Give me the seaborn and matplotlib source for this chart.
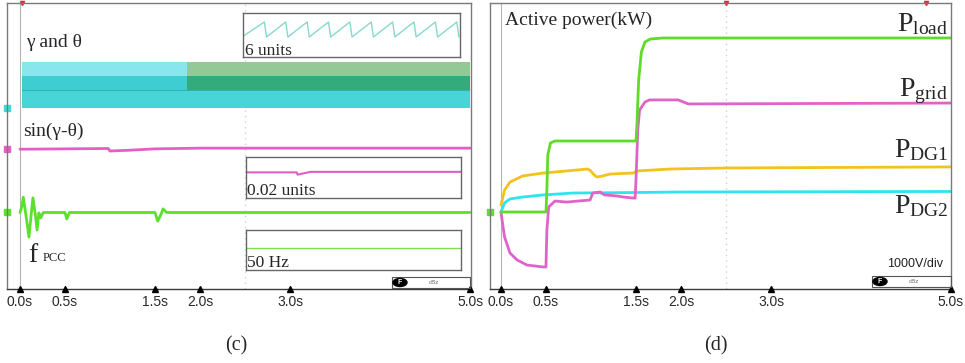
import matplotlib
matplotlib.use("Agg")
import matplotlib.pyplot as plt
import seaborn as sns
from matplotlib.patches import Rectangle, Ellipse

# ---------------- data ----------------
tick_pos = [0.0, 0.5, 1.5, 2.0, 3.0, 5.0]
tick_lab = ["0.0s", "0.5s", "1.5s", "2.0s", "3.0s", "5.0s"]

# (c) gamma / theta bands (divisions) : dense 50 Hz sawtooths seen as bands
band_t_left = [0.02, 1.86]
band_t_right = [1.86, 5.0]
band_top = [6.35, 5.96]     # upper band edges
band_mid = [5.96, 5.57]     # middle band edges
band_low = [5.54, 5.06]     # lower band edges

# (c) sin(gamma-theta)  (divisions)
sin_t = [0.0, 0.5, 0.98, 1.0, 1.2, 1.5, 2.0, 5.0]
sin_v = [3.91, 3.92, 3.93, 3.86, 3.88, 3.92, 3.94, 3.94]

# (c) f_PCC (divisions)
f_t = [0.0, 0.02, 0.037, 0.07, 0.1, 0.125, 0.144, 0.17, 0.19, 0.21, 0.23, 0.26,
       0.5, 0.52, 0.55, 1.5, 1.53, 1.56, 1.59, 1.63, 5.0]
f_v = [2.14, 2.3, 2.57, 2.0, 1.45, 2.1, 2.55, 2.1, 1.65, 2.13, 1.99, 2.14,
       2.14, 1.96, 2.14, 2.14, 1.9, 2.05, 2.24, 2.14, 2.14]

# insets of (c)
saw_t = [0, 20, 22, 40, 42, 60, 62, 80, 82, 100, 102, 120, 122, 140, 142, 160, 162,
         180, 182, 200, 202]
saw_v = [0.3, 6.28, 0.0, 6.28, 0.0, 6.28, 0.0, 6.28, 0.0, 6.28, 0.0, 6.28, 0.0, 6.28,
         0.0, 6.28, 0.0, 6.28, 0.0, 6.28, 0.0]
sinz_t = [0.0, 1.18, 1.2, 1.5, 5.0]
sinz_v = [0.0, 0.0, -0.0022, 0.0005, 0.0005]
fz_t = [0.0, 5.0]
fz_v = [50.0, 50.0]

# (d) active power (kW)
pload_t = [0, 0.5, 0.51, 0.52, 0.55, 0.6, 1.5, 1.51, 1.53, 1.56, 1.6, 1.66, 1.8, 5.0]
pload_v = [0, 0, 1.26, 3.28, 3.97, 4.08, 4.08, 5.0, 7.59, 9.2, 9.77, 9.94, 10.0, 10.0]
pgrid_t = [0, 0.02, 0.04, 0.1, 0.18, 0.29, 0.47, 0.5, 0.51, 0.53, 0.6, 0.73, 0.99,
           1.02, 1.1, 1.15, 1.29, 1.36, 1.47, 1.49, 1.5, 1.52, 1.54, 1.6, 1.65,
           1.97, 2.08, 5.0]
pgrid_v = [0, -0.75, -1.44, -2.36, -2.76, -3.05, -3.16, -3.16, -1.03, 0.29, 0.63,
           0.57, 0.69, 1.09, 1.15, 0.98, 0.92, 0.86, 0.8, 0.8, 1.84, 4.71, 5.86,
           6.32, 6.44, 6.44, 6.21, 6.26]
pdg1_t = [0, 0.04, 0.1, 0.24, 0.47, 0.73, 0.96, 0.99, 1.04, 1.07, 1.13, 1.21, 1.47,
          1.51, 1.88, 2.5, 5.0]
pdg1_v = [0.4, 1.26, 1.72, 2.07, 2.24, 2.36, 2.47, 2.4, 2.1, 2.01, 2.07, 2.18, 2.24,
          2.36, 2.47, 2.53, 2.59]
pdg2_t = [0, 0.04, 0.1, 0.24, 0.47, 0.8, 1.5, 2.0, 5.0]
pdg2_v = [0, 0.52, 0.75, 0.86, 0.98, 1.09, 1.12, 1.15, 1.18]

# ---------------- style ----------------
sns.set_theme(style="white")
plt.rcParams["font.family"] = ["Liberation Serif", "DejaVu Serif"]
plt.rcParams["mathtext.fontset"] = "custom"
plt.rcParams["mathtext.rm"] = "Liberation Serif"
plt.rcParams["mathtext.it"] = "Liberation Serif:italic"

W, H = 965, 363
fig = plt.figure(figsize=(W / 100, H / 100), dpi=100)
fig.patch.set_facecolor("white")


def fx(px):
    return px / W


def fy(py):
    return 1 - py / H


def rect(x0, y0, x1, y1):
    return [fx(x0), fy(y1), fx(x1) - fx(x0), fy(y0) - fy(y1)]


def trace(ax, t, v, color, lw):
    sns.lineplot(x=t, y=v, ax=ax, color=color, linewidth=lw, estimator=None,
                 sort=False, legend=False)


def frame(ax):
    for s in ax.spines.values():
        s.set_color("#7a7a7a")
        s.set_linewidth(1.0)
    ax.spines["bottom"].set_color("#3a3a3a")
    ax.set_yticks([])
    ax.set_xticks(tick_pos)
    ax.set_xticklabels(tick_lab, fontfamily="Liberation Sans", fontsize=10,
                       color="#2a2a2a")
    ax.tick_params(axis="x", length=0, pad=4)
    ax.set_xlabel("")
    ax.set_ylabel("")
    ax.grid(False)


def badge(x0, x1, y0, y1):
    fig.add_artist(Rectangle((fx(x0), fy(y1)), fx(x1) - fx(x0), fy(y0) - fy(y1),
                             transform=fig.transFigure, fill=False,
                             edgecolor="#555555", linewidth=0.8))
    cx = x0 + 8
    fig.add_artist(Ellipse((fx(cx), fy((y0 + y1) / 2)), fx(14), 8 / H,
                           transform=fig.transFigure, color="black"))
    fig.text(fx(cx), fy((y0 + y1) / 2), "F", color="white", fontsize=5,
             ha="center", va="center", fontfamily="Liberation Sans",
             fontweight="bold")
    fig.text(fx(x0 + 42), fy((y0 + y1) / 2), "cBz", color="#666666", fontsize=4.5,
             ha="center", va="center", fontfamily="Liberation Sans")


# ---------------- panel (c) ----------------
axL = fig.add_axes(rect(7, 3, 471, 289))
axL.set_xlim(-0.144, 5.01)
axL.set_ylim(0, 8)
axL.axvline(0, color="#b5b5b5", lw=0.8, zorder=0)
axL.axvline(2.5, color="#d0d0d0", lw=1.0, ls=(0, (1, 3)), zorder=0)

axL.fill_between(band_t_left, band_top[0], band_top[1], color="#88e6ec", lw=0)
axL.fill_between(band_t_right, band_top[0], band_top[1], color="#92c994", lw=0)
axL.fill_between(band_t_left, band_mid[0], band_mid[1], color="#3ecdd0", lw=0)
axL.fill_between(band_t_right, band_mid[0], band_mid[1], color="#34ab7c", lw=0)
axL.fill_between([0.02, 5.0], band_mid[1], band_low[0], color="#2bb3b3", lw=0)
axL.fill_between([0.02, 5.0], band_low[0], band_low[1], color="#48d5d8", lw=0)

trace(axL, sin_t, sin_v, "#e15fc6", 2.0)
trace(axL, f_t, f_v, "#5ce02e", 2.0)
frame(axL)
yb = axL.get_ylim()[0]
axL.plot(tick_pos, [yb] * len(tick_pos), ls="", marker="^", ms=4, color="black",
         clip_on=False, zorder=5)
xl = axL.get_xlim()[0]
axL.plot([xl], [band_low[1]], ls="", marker="s", ms=4, color="#48d5d8", clip_on=False)
axL.plot([xl], [sin_v[0]], ls="", marker="s", ms=4, color="#e15fc6", clip_on=False)
axL.plot([xl], [f_v[0]], ls="", marker="s", ms=4, color="#5ce02e", clip_on=False)
axL.plot([0.02], [axL.get_ylim()[1]], ls="", marker="v", ms=3, color="#e03030",
         clip_on=False)

fig.text(fx(26), fy(47), "γ and θ", fontsize=14, va="baseline")
fig.text(fx(23), fy(136), "sin(γ-θ)", fontsize=14, va="baseline")
fig.text(fx(28), fy(262), "f", fontsize=20, va="baseline")
fig.text(fx(43), fy(261), "PCC", fontsize=9, va="baseline")

# insets
in1 = fig.add_axes(rect(243, 13, 460, 57))
in1.set_xlim(0, 203)
in1.set_ylim(-8.37, 10.05)
trace(in1, saw_t, saw_v, "#86d9cc", 1.0)
in2 = fig.add_axes(rect(246, 157, 461, 198))
in2.set_xlim(0, 5)
in2.set_ylim(-0.025, 0.015)
trace(in2, sinz_t, sinz_v, "#dd5fc4", 1.5)
in3 = fig.add_axes(rect(246, 230, 461, 270))
in3.set_xlim(0, 5)
in3.set_ylim(49.45, 50.45)
trace(in3, fz_t, fz_v, "#7cde52", 1.0)
for a in (in1, in2, in3):
    a.set_xticks([])
    a.set_yticks([])
    a.set_xlabel("")
    a.set_ylabel("")
    for s in a.spines.values():
        s.set_color("#666666")
        s.set_linewidth(1.0)
fig.text(fx(245), fy(55), "6 units", fontsize=12.5, va="baseline")
fig.text(fx(247), fy(195), "0.02 units", fontsize=12.5, va="baseline")
fig.text(fx(247), fy(267), "50 Hz", fontsize=12.5, va="baseline")

badge(392, 470, 277, 288)

# ---------------- panel (d) ----------------
axR = fig.add_axes(rect(490, 3, 951, 289))
axR.set_xlim(-0.122, 5.0)
axR.set_ylim(-4.425, 12.01)
axR.axvline(0, color="#b5b5b5", lw=0.8, zorder=0)
axR.axvline(2.5, color="#d0d0d0", lw=1.0, ls=(0, (1, 3)), zorder=0)
trace(axR, pdg1_t, pdg1_v, "#f3c21c", 2.0)
trace(axR, pdg2_t, pdg2_v, "#2fe3ef", 2.0)
trace(axR, pgrid_t, pgrid_v, "#e063c9", 2.0)
trace(axR, pload_t, pload_v, "#5fdc2a", 2.0)
frame(axR)
yb = axR.get_ylim()[0]
axR.plot(tick_pos, [yb] * len(tick_pos), ls="", marker="^", ms=4, color="black",
         clip_on=False, zorder=5)
axR.plot([axR.get_xlim()[0]], [0], ls="", marker="s", ms=5, color="#5fdc2a",
         clip_on=False)
axR.plot([2.5, 4.72], [axR.get_ylim()[1]] * 2, ls="", marker="v", ms=3,
         color="#e03030", clip_on=False)

fig.text(fx(505), fy(25), "Active power(kW)", fontsize=14, va="baseline")
fig.text(fx(948), fy(31), r"$\mathrm{P_{load}}$", fontsize=20, ha="right",
         va="baseline")
fig.text(fx(948), fy(96), r"$\mathrm{P_{grid}}$", fontsize=20, ha="right",
         va="baseline")
fig.text(fx(948), fy(157), r"$\mathrm{P_{DG1}}$", fontsize=20, ha="right",
         va="baseline")
fig.text(fx(948), fy(213), r"$\mathrm{P_{DG2}}$", fontsize=20, ha="right",
         va="baseline")
fig.text(fx(915), fy(264), "1000V/div", fontsize=9, ha="center", va="center",
         fontfamily="Liberation Sans", color="#222222")
badge(872, 951, 276, 287)

# captions
fig.text(fx(236), fy(346), "(c)", fontsize=14.5, ha="center", va="center")
fig.text(fx(716), fy(346), "(d)", fontsize=14.5, ha="center", va="center")

fig.savefig("out.png", dpi=100, facecolor="white")
